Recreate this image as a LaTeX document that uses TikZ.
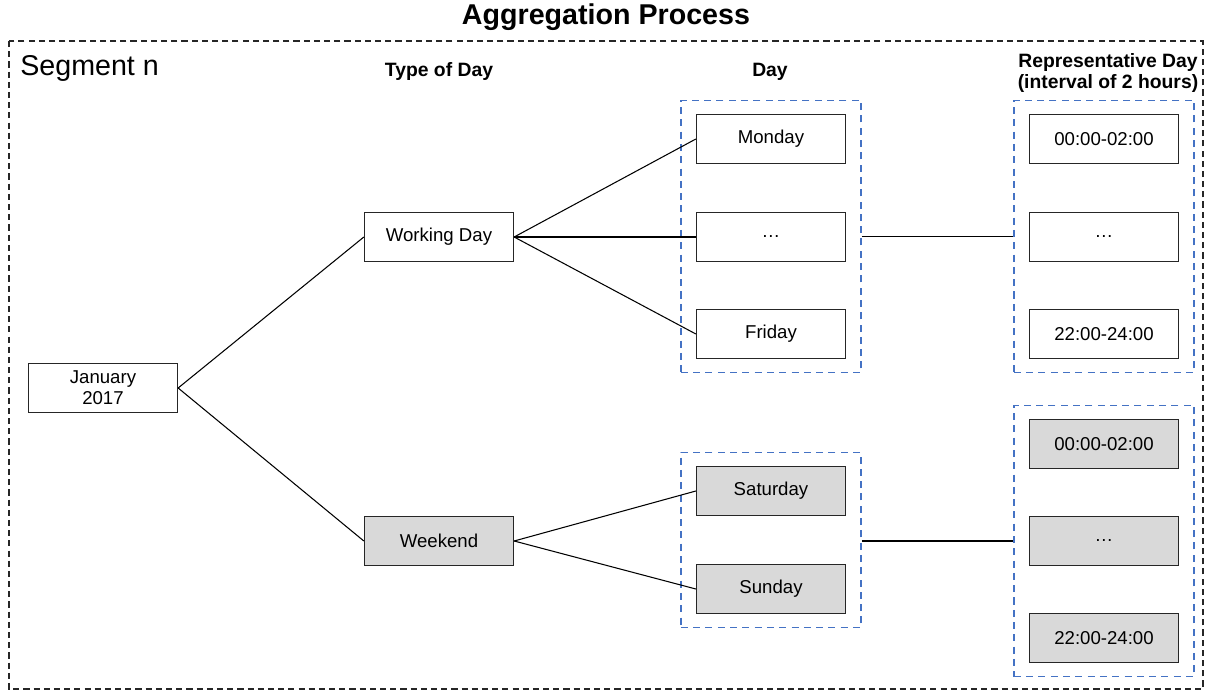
\documentclass[tikz,border=0pt]{standalone}
\usepackage{fontspec}
\setmainfont{Liberation Sans}
\usetikzlibrary{fit}

\definecolor{dayblue}{RGB}{68,114,196}
\definecolor{wkgray}{RGB}{217,217,217}

\begin{document}
\begin{tikzpicture}[x=0.02cm, y=-0.02cm,
    box/.style={draw=black!85, line width=0.75pt, minimum width=2.98cm, minimum height=0.98cm, inner sep=0pt, font=\fontsize{10.6}{12}\selectfont, align=center},
    grey/.style={box, fill=wkgray},
    group/.style={draw=dayblue, line width=0.75pt, dash pattern=on 4pt off 3pt, inner xsep=0.3cm, inner ysep=0.27cm},
    head/.style={font=\bfseries\fontsize{11}{12.5}\selectfont, align=center},
    link/.style={black, line width=0.6pt}]
  \useasboundingbox (0,0) rectangle (1208,693);
  \draw[black!85, line width=0.6pt, dash pattern=on 3.5pt off 2.3pt] (9,41) rectangle (1203,689);
   \node[font=\bfseries\fontsize{16.3}{18}\selectfont] (title) at (606,17) {Aggregation Process};
   \node[anchor=west, font=\fontsize{16.3}{18}\selectfont, inner sep=0pt] (seg) at (20,68) {Segment n};
    \node[head] (htype) at (439,72) {Type of Day};
    \node[head] (hday) at (770,72) {Day};
    \node[head] (hrep) at (1108,73) {Representative Day\\(interval of 2 hours)};
 % first levels
  \node[box] (jan) at (103,388) {January\\2017};
  \node[box] (work) at (439,237) {Working Day};
  \node[grey] (wkend) at (439,541) {Weekend};
 % days
  \node[box] (mon) at (771,139) {Monday};
  \node[box] (wdots) at (771,237) {\dots};
  \node[box] (fri) at (771,334) {Friday};
  \node[grey] (sat) at (771,491) {Saturday};
  \node[grey] (sun) at (771,589) {Sunday};
 % intervals
  \node[box] (wa) at (1104,139) {00:00-02:00};
  \node[box] (wb) at (1104,237) {\dots};
  \node[box] (wc) at (1104,334) {22:00-24:00};
  \node[grey] (ea) at (1104,444) {00:00-02:00};
  \node[grey] (eb) at (1104,541) {\dots};
  \node[grey] (ec) at (1104,638) {22:00-24:00};
 % dashed groups
  \node[group, fit=(mon)(fri)] (gwork) {};
  \node[group, fit=(sat)(sun)] (gwkend) {};
  \node[group, fit=(wa)(wc)] (rwork) {};
  \node[group, fit=(ea)(ec)] (rwkend) {};
 % connectors
  \draw[link] (jan.east) -- (work.west);
  \draw[link] (jan.east) -- (wkend.west);
  \draw[link] (work.east) -- (mon.west);
  \draw[link] (work.east) -- (wdots.west);
  \draw[link] (work.east) -- (fri.west);
  \draw[link] (wkend.east) -- (sat.west);
  \draw[link] (wkend.east) -- (sun.west);
  \draw[link] (gwork.east) -- (rwork.west);
  \draw[link] (gwkend.east |- eb) -- (rwkend.west |- eb);
\end{tikzpicture}
\end{document}
